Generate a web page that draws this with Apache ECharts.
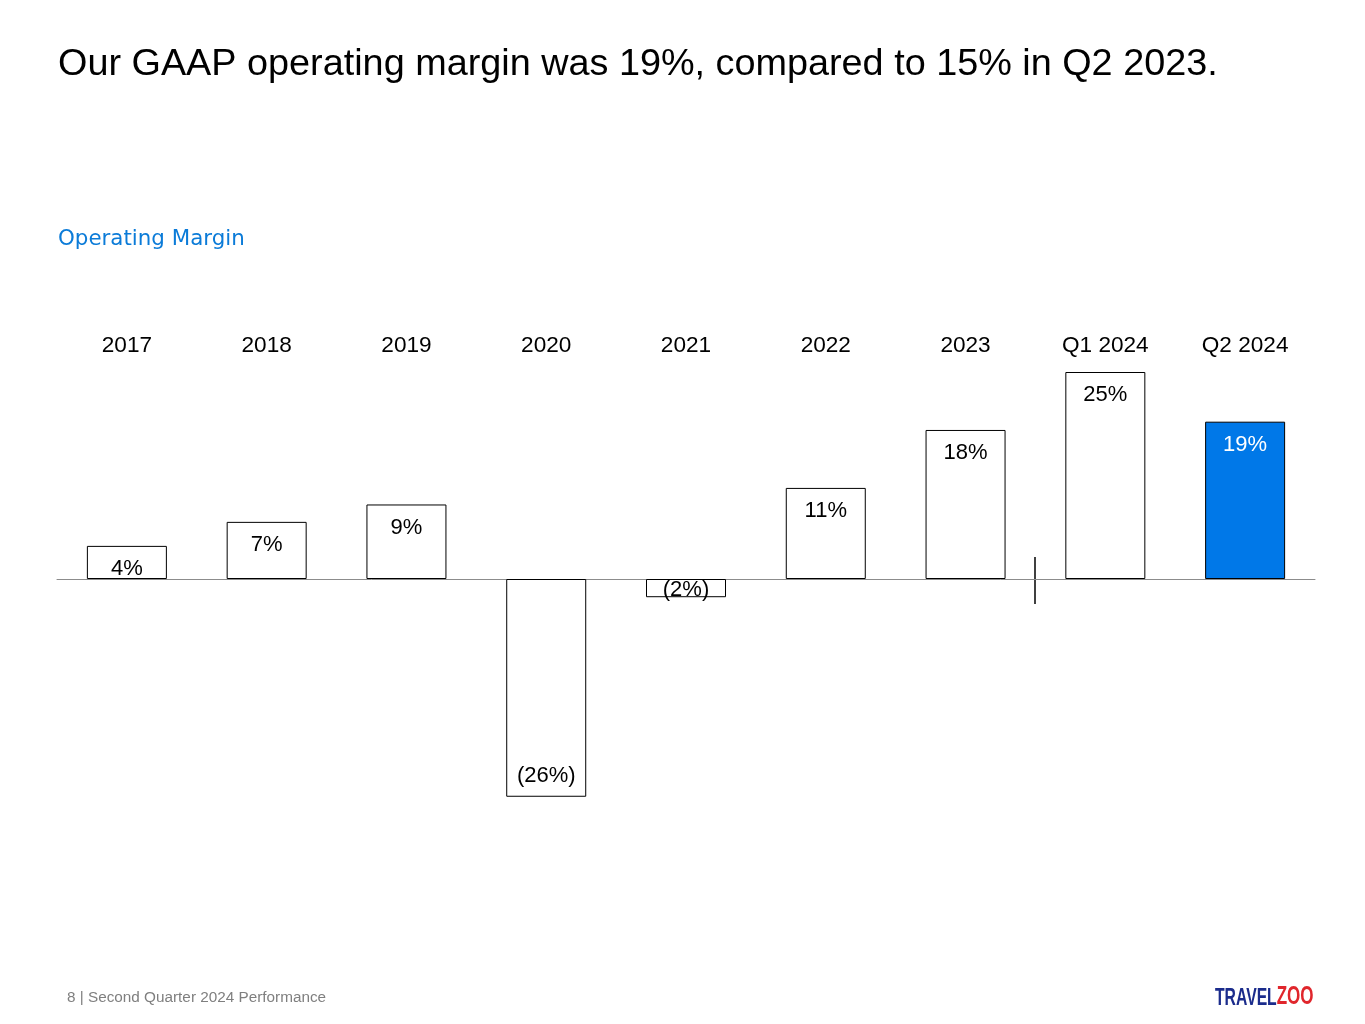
<!DOCTYPE html>
<html><head><meta charset="utf-8">
<script src="https://cdn.jsdelivr.net/npm/echarts@6/dist/echarts.min.js"></script>
<style>html,body{margin:0;padding:0;background:#fff}#c{width:1365px;height:1024px}</style>
</head><body><div id="c"></div>
<script>
const categories = ['2017','2018','2019','2020','2021','2022','2023','Q1 2024','Q2 2024'];
const marginValues = [4.0, 6.9, 9.0, -26.3, -2.2, 11.0, 18.0, 25.0, 19.0];
const marginLabels = ['4%','7%','9%','(26%)','(2%)','11%','18%','25%','19%'];
const highlightIndex = 8;

const chart = echarts.init(document.getElementById('c'));
const data = marginValues.map((v, i) => {
  const hl = i === highlightIndex;
  const d = {
    value: v,
    itemStyle: { color: hl ? '#0078E8' : '#ffffff', borderColor: '#000', borderWidth: 1 },
    label: {
      show: true,
      formatter: marginLabels[i],
      color: hl ? '#ffffff' : '#000000',
      position: v >= 0 ? 'insideTop' : 'insideBottom',
      distance: v >= 0 ? 12 : 10
    }
  };
  if (v < 0 && v > -5) { d.label.position = 'inside'; d.label.offset = [0, 2]; }
  return d;
});

chart.setOption({
  animation: false,
  textStyle: { fontFamily: 'Liberation Sans' },
  title: [
    { text: 'Our GAAP operating margin was 19%, compared to 15% in Q2 2023.', left: 53, top: 41,
      textStyle: { fontSize: 37.8, fontWeight: 'normal', color: '#000', fontFamily: 'Liberation Sans' } },
    { text: 'Operating Margin', left: 53, top: 224,
      textStyle: { fontSize: 21.4, fontWeight: 'normal', color: '#0B7BD8', fontFamily: 'DejaVu Sans' } },
    { text: '8 | Second Quarter 2024 Performance', left: 62, top: 985,
      textStyle: { fontSize: 15.3, fontWeight: 'normal', color: '#7f7f7f', fontFamily: 'Liberation Sans' } }
  ],
  grid: { left: 57, right: 50, top: 330.6, height: 496.8 },
  xAxis: [
    { type: 'category', data: categories, axisLine: { onZero: true, lineStyle: { color: '#8c8c8c', width: 1 } },
      axisTick: { show: false }, axisLabel: { show: false } },
    { type: 'category', data: categories, position: 'top', axisLine: { show: false }, axisTick: { show: false },
      axisLabel: { inside: true, margin: 4, fontSize: 22.6, color: '#000', fontFamily: 'Liberation Sans' } }
  ],
  yAxis: { type: 'value', min: -30, max: 30, show: false, splitLine: { show: false } },
  series: [{
    type: 'bar', data: data, barWidth: 80,
    label: { fontSize: 22, fontFamily: 'Liberation Sans' }
  }],
  graphic: [
    { type: 'line', shape: { x1: 1035, y1: 557, x2: 1035, y2: 604 }, style: { stroke: '#000', lineWidth: 1.5 } },
    { type: 'text', x: 1215, y: 984, scaleX: 0.655, style: {
      text: '{a|TRAVEL}{b|ZOO}', rich: {
        a: { fontSize: 24, fontWeight: 900, fill: '#1B2C8C', fontFamily: 'Liberation Sans', verticalAlign: 'bottom' },
        b: { fontSize: 26, fontWeight: 900, fill: '#E0262C', fontFamily: 'Liberation Sans', verticalAlign: 'bottom' }
      } } }
  ]
});
</script></body></html>
